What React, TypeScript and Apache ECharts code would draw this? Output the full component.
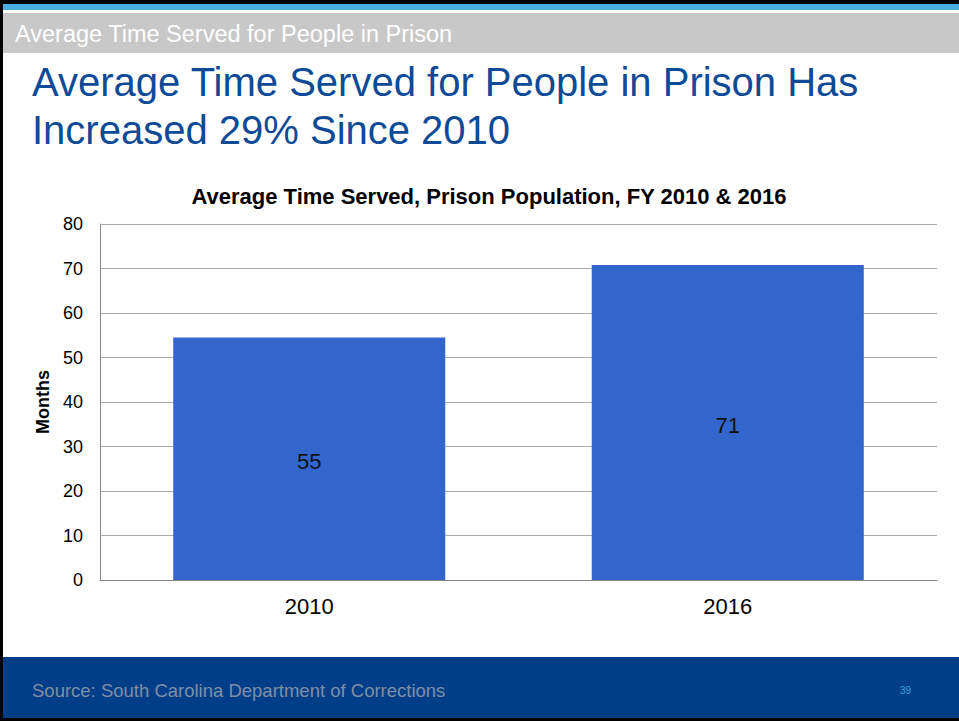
import React, { useEffect, useRef } from "react";
import * as echarts from "echarts";

const categories = ["2010", "2016"];
const values = [54.5, 70.8];
const valueLabels = ["55", "71"];
const yTicks = [0, 10, 20, 30, 40, 50, 60, 70, 80];

const headerText = "Average Time Served for People in Prison";
const titleLines = ["Average Time Served for People in Prison Has", "Increased 29% Since 2010"];
const chartTitle = "Average Time Served, Prison Population, FY 2010 & 2016";
const yAxisName = "Months";
const sourceText = "Source: South Carolina Department of Corrections";
const pageNumber = "39";

const FONT = "'Liberation Sans', Arial, sans-serif";

export default function App() {
  const ref = useRef<HTMLDivElement>(null);
  useEffect(() => {
    if (!ref.current) return;
    const chart = echarts.init(ref.current, undefined, { renderer: "svg" });
    chart.setOption({
      animation: false,
      backgroundColor: "#ffffff",
      textStyle: { fontFamily: FONT },
      title: {
        text: chartTitle,
        left: 484,
        top: 180,
        textAlign: "center",
        textStyle: { fontFamily: FONT, fontSize: 22, fontWeight: "bold", color: "#000" },
      },
      grid: { left: 100, right: 22, top: 224, bottom: 141, containLabel: false },
      xAxis: {
        type: "category",
        data: categories,
        axisLine: { show: true, lineStyle: { color: "#888", width: 1 } },
        axisTick: { show: false },
        axisLabel: { color: "#000", fontSize: 22, fontFamily: FONT, margin: 15 },
      },
      yAxis: {
        type: "value",
        min: yTicks[0],
        max: yTicks[yTicks.length - 1],
        interval: 10,
        name: yAxisName,
        nameLocation: "middle",
        nameGap: 46,
        nameRotate: 90,
        nameTextStyle: { fontFamily: FONT, fontSize: 18, fontWeight: "bold", color: "#000" },
        axisLine: { show: true, lineStyle: { color: "#888", width: 1 } },
        axisTick: { show: false },
        axisLabel: { color: "#000", fontSize: 18, fontFamily: FONT, margin: 17 },
        splitLine: { show: true, lineStyle: { color: "#aaa", width: 1 } },
      },
      series: [
        {
          type: "bar",
          data: values,
          barCategoryGap: "35%",
          itemStyle: { color: "#3366CC" },
          label: {
            show: true,
            position: "inside",
            offset: [0, 3],
            color: "#111",
            fontSize: 22,
            fontFamily: FONT,
            formatter: (p: any) => valueLabels[p.dataIndex],
          },
        },
      ],
      graphic: [
        { type: "rect", left: 0, top: 0, shape: { width: 959, height: 4 }, style: { fill: "#000" }, z: 10 },
        { type: "rect", left: 0, top: 4, shape: { width: 959, height: 6 }, style: { fill: "#4BACE3" }, z: 10 },
        { type: "rect", left: 0, top: 13, shape: { width: 959, height: 40 }, style: { fill: "#C8C8C8" }, z: 10 },
        {
          type: "text",
          x: 15,
          y: 34,
          style: { text: headerText, fill: "#ffffff", font: `23.5px ${FONT}`, textVerticalAlign: "middle" },
          z: 11,
        },
        {
          type: "text",
          x: 32,
          y: 82,
          style: { text: titleLines[0], fill: "#0E4A96", font: `40px ${FONT}`, textVerticalAlign: "middle" },
          z: 11,
        },
        {
          type: "text",
          x: 32,
          y: 130,
          style: { text: titleLines[1], fill: "#0E4A96", font: `40px ${FONT}`, textVerticalAlign: "middle" },
          z: 11,
        },
        { type: "rect", left: 0, top: 657, shape: { width: 959, height: 61 }, style: { fill: "#003F87" }, z: 10 },
        { type: "rect", left: 0, top: 718, shape: { width: 959, height: 3 }, style: { fill: "#000" }, z: 10 },
        { type: "rect", left: 0, top: 0, shape: { width: 3, height: 721 }, style: { fill: "#000" }, z: 12 },
        {
          type: "text",
          x: 32,
          y: 690,
          style: { text: sourceText, fill: "#7F8EA8", font: `18.5px ${FONT}`, textVerticalAlign: "middle" },
          z: 11,
        },
        {
          type: "text",
          x: 900,
          y: 690,
          style: { text: pageNumber, fill: "#3A9FDF", font: `10px ${FONT}`, textVerticalAlign: "middle" },
          z: 11,
        },
      ],
    });
    return () => chart.dispose();
  }, []);
  return (
    <div
      ref={ref}
      style={{ position: "fixed", left: 0, top: 0, width: 959, height: 721 }}
    />
  );
}
